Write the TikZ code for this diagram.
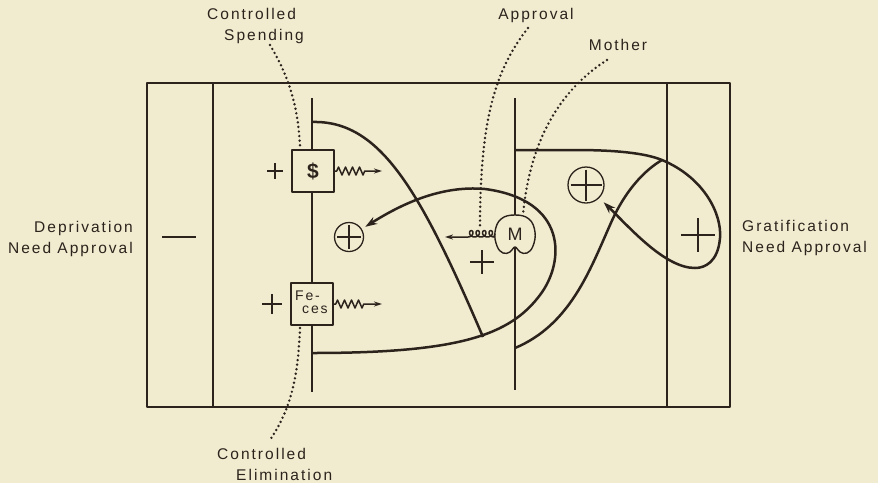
\documentclass[tikz,border=0pt]{standalone}
\usepackage{fontspec}
\newfontfamily\lbl[LetterSpace=13]{Liberation Sans}
\newfontfamily\plainsans{Liberation Sans}
\usetikzlibrary{arrows.meta,decorations.pathmorphing}
\definecolor{ink}{RGB}{44,36,28}
\definecolor{paper}{RGB}{241,235,208}
\tikzset{
  frame/.style={line width=1.6pt},
  bar/.style={line width=2.6pt},
  curve/.style={line width=2.5pt},
  bigtip/.style={-{Stealth[length=12pt,width=8pt]}},
  dotline/.style={line width=2.7pt, line cap=round, dash pattern=on 0pt off 4.6pt},
  label/.style={font={\lbl\fontsize{15.5}{21}\selectfont}, inner sep=0pt, text=ink},
  valbox/.style={draw, line width=1.5pt, fill=paper, minimum size=42pt, inner sep=0pt},
  cplus/.style={draw, circle, line width=1.3pt, fill=paper, inner sep=0pt,
    path picture={\draw[line width=1.4pt, shorten >=2.5pt, shorten <=2.5pt]
      (path picture bounding box.north) -- (path picture bounding box.south);
      \draw[line width=1.4pt, shorten >=2.5pt, shorten <=2.5pt]
      (path picture bounding box.west) -- (path picture bounding box.east);}},
  zzarrow/.style={line width=1.5pt, -{Stealth[length=8pt,width=5pt]},
    decorate, decoration={zigzag, amplitude=4pt, segment length=7pt, pre length=2pt, post length=16pt}},
  coilarrow/.style={line width=1.5pt, -{Stealth[length=8pt,width=5pt]}},
  pics/plusmark/.style={code={\draw[line width=1.5pt] (-#1,0) -- (#1,0) (0,-#1) -- (0,#1);}}
}
\begin{document}
\begin{tikzpicture}[x=1pt,y=-1pt, draw=ink, line join=round]
\fill[paper] (0,0) rectangle (878,483);
\useasboundingbox (0,0) rectangle (878,483);

% frame
\draw[frame] (147,83) rectangle (730,407);
\draw[frame] (213,83) -- (213,407);
\draw[frame] (667,83) -- (667,407);

% bars
\draw[bar] (312,98) -- (312,392);
\draw[bar] (515,98) -- (515,390);

% coordinates
\coordinate (lt) at (312,122);
\coordinate (lb) at (312,353);
\coordinate (mt) at (515,150);
\coordinate (mb) at (515,348);
\coordinate (meet) at (662,160);

% circled plus nodes
\node[cplus, minimum size=29pt] (cpl) at (349,237) {};
\node[cplus, minimum size=36pt] (cpr) at (586,185) {};

% left curve
\draw[curve] (lt) .. controls (380,120) and (420,190) .. (483,337);
% big curve with arrow
\draw[curve, bigtip, shorten >=4pt] (lb) .. controls (460,353) and (510,335) .. (540,295)
  .. controls (565,262) and (568,200) .. (485,189)
  .. controls (440,185) and (400,205) .. (cpl);
% S curve
\draw[curve] (mb) .. controls (570,325) and (590,270) .. (610,225)
  .. controls (625,190) and (645,170) .. (meet);
% right loop with arrow
\draw[curve, bigtip, shorten >=6pt] (mt) -- (575,150) .. controls (615,150) and (645,153) .. (meet)
  .. controls (705,178) and (722,215) .. (720,238)
  .. controls (718,262) and (705,268) .. (695,268)
  .. controls (665,268) and (630,228) .. (cpr);

% mother bean
\fill[paper] plot[smooth cycle, tension=0.7] coordinates {(515,215) (529,219) (535,232) (533,246) (527,253) (520,252) (515,247) (510,252) (503,253) (497,246) (495,232) (501,219)};
\draw[line width=1.4pt] plot[smooth cycle, tension=0.7] coordinates {(515,215) (529,219) (535,232) (533,246) (527,253) (520,252) (515,247) (510,252) (503,253) (497,246) (495,232) (501,219)};
\node[circle, minimum size=40pt, inner sep=0pt, font={\plainsans\fontsize{18}{18}\selectfont}, text=ink] (mom) at (515,234) {M};

% boxes
\node[valbox, font={\plainsans\bfseries\fontsize{21}{21}\selectfont}, text=ink] (dollar) at (313,171) {\$};
\node[valbox, text=ink] (feces) at (312,304) {};
\node[anchor=north west, inner sep=0pt, align=left, text=ink, font={\lbl\fontsize{14}{13}\selectfont}] (fectext) at (295,291) {Fe-\\\hspace*{7pt}ces};

% small arrows
\coordinate (zz1) at (382,171);
\coordinate (zz2) at (382,304);
\coordinate (coilend) at (445,237);
\draw[zzarrow] (dollar.east) -- (zz1);
\draw[zzarrow] (feces.east) -- (zz2);
\draw[coilarrow] (mom.west) -- (494,237) -- plot[domain=0:4, samples=100, smooth] ({494 - 6.5*\x - 3.2*sin(360*\x)}, {233.8 + 3.2*cos(360*\x)}) -- (coilend);

% plus and minus marks
\pic at (275,171) {plusmark=8};
\pic at (272,304) {plusmark=10};
\pic at (482,262) {plusmark=12};
\pic at (698,235) {plusmark=17};
\draw[line width=1.6pt] (162,237) -- (196,237);

% labels
\node[label, anchor=west, align=left] (lspend) at (207,26) {Controlled\\\hspace*{17pt}Spending};
\node[label, anchor=west, align=left] (lelim) at (217,464) {Controlled\\\hspace*{19pt}Elimination};
\node[label] (lappr) at (536,15) {Approval};
\node[label] (lmoth) at (618,45) {Mother};
\node[label, anchor=east, align=right] (ldep) at (133,239) {Deprivation\\Need Approval};
\node[label, anchor=west, align=left] (lgrat) at (742,238) {Gratification\\Need Approval};

% dotted leaders
\coordinate (ds1) at (270,45);
\coordinate (ds2) at (300,147);
\draw[dotline] (ds1) .. controls (285,70) and (298,100) .. (ds2);
\coordinate (de1) at (300,328);
\coordinate (de2) at (270,440);
\draw[dotline] (de1) .. controls (298,380) and (290,410) .. (de2);
\coordinate (da1) at (528,28);
\coordinate (da2) at (480,228);
\draw[dotline] (da1) .. controls (495,70) and (480,120) .. (da2);
\coordinate (dm1) at (607,60);
\coordinate (dm2) at (523,215);
\draw[dotline] (dm1) .. controls (560,90) and (530,140) .. (dm2);
\end{tikzpicture}
\end{document}
